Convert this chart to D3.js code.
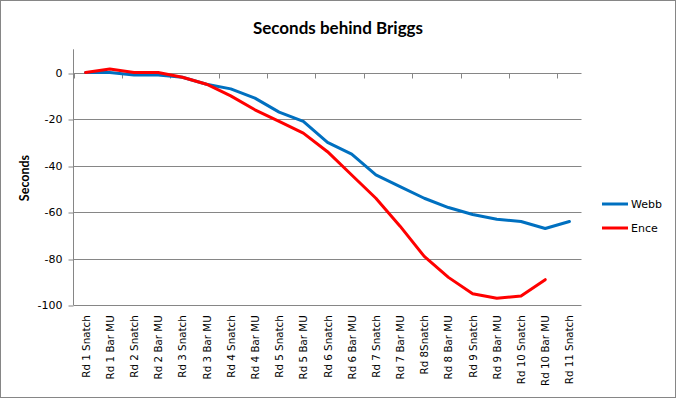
<!DOCTYPE html>
<html>
<head>
<meta charset="utf-8">
<script src="https://cdn.jsdelivr.net/npm/d3@7/dist/d3.min.js"></script>
<style>
  html, body { margin: 0; padding: 0; background: #fff; }
  svg { display: block; }
</style>
</head>
<body>
<svg id="chart" width="677" height="399"></svg>
<script>
const categories = [
  "Rd 1 Snatch", "Rd 1 Bar MU", "Rd 2 Snatch", "Rd 2 Bar MU", "Rd 3 Snatch", "Rd 3 Bar MU",
  "Rd 4 Snatch", "Rd 4 Bar MU", "Rd 5 Snatch", "Rd 5 Bar MU", "Rd 6 Snatch", "Rd 6 Bar MU",
  "Rd 7 Snatch", "Rd 7 Bar MU", "Rd 8Snatch", "Rd 8 Bar MU", "Rd 9 Snatch", "Rd 9 Bar MU",
  "Rd 10 Snatch", "Rd 10 Bar MU", "Rd 11 Snatch"
];
const webb = [0, 0, -1, -1, -2, -5, -7, -11, -17, -21, -30, -35, -44, -49, -54, -58, -61, -63, -64, -67, -64];
const ence = [0, 1.5, 0, 0, -2, -5, -10, -16, -21, -26, -34, -44, -54, -66, -79, -88, -95, -97, -96, -89, null];
const yTicks = [0, -20, -40, -60, -80, -100];
const seriesNames = ["Webb", "Ence"];
const seriesColors = ["#0070C0", "#FF0000"];

(function () {
const svg = d3.select("#chart");
const pLeft = 73.5, pRight = 581.5, pTop = 49.3, pBottom = 305.3;
const gridColor = "#868686";
const tickFont = "'DejaVu Sans', Verdana, sans-serif";

// chart border
svg.append("rect").attr("x", 0.5).attr("y", 0.5).attr("width", 675).attr("height", 397)
  .attr("fill", "#fff").attr("stroke", gridColor).attr("stroke-width", 1);

const x = d3.scaleBand().domain(categories).range([pLeft, pRight]).paddingInner(0).paddingOuter(0);
const y = d3.scaleLinear().domain([-100, 10]).range([pBottom, pTop]);
const cx = c => x(c) + x.bandwidth() / 2;

// title
svg.append("text").attr("x", 338).attr("y", 34)
  .attr("text-anchor", "middle")
  .style("font-family", "Lato, 'Open Sans', sans-serif").style("font-weight", "bold").style("font-size", "17px")
  .text("Seconds behind Briggs");

// gridlines
svg.append("g").selectAll("line").data(yTicks).join("line")
  .attr("x1", pLeft).attr("x2", pRight)
  .attr("y1", d => Math.round(y(d)) + 0.5).attr("y2", d => Math.round(y(d)) + 0.5)
  .attr("stroke", gridColor).attr("stroke-width", 1);

// y axis
const yAxis = d3.axisLeft(y).tickValues(yTicks).tickFormat(d => String(d))
  .tickSize(5).tickSizeOuter(0).tickPadding(6);
const gy = svg.append("g").attr("transform", `translate(${pLeft},0)`).call(yAxis);
gy.attr("font-family", null).attr("font-size", null);
gy.select(".domain").remove();
gy.selectAll(".tick line").attr("stroke", gridColor)
  .attr("transform", d => `translate(0,${Math.round(y(d)) + 0.5 - y(d)})`);
gy.selectAll(".tick text")
  .style("font-family", tickFont).style("font-size", "11px").attr("fill", "#000");
svg.append("line").attr("x1", pLeft).attr("x2", pLeft).attr("y1", pTop).attr("y2", pBottom)
  .attr("stroke", gridColor);

// x axis line at 0 with tick marks every 2 categories
const y0 = Math.round(y(0)) + 0.5;
const boundaries = d3.range(0, categories.length + 1, 2).map(k => pLeft + k * x.bandwidth());
svg.append("g").selectAll("line").data(boundaries).join("line")
  .attr("x1", d => Math.round(d) + 0.5).attr("x2", d => Math.round(d) + 0.5)
  .attr("y1", y0).attr("y2", y0 + 5)
  .attr("stroke", gridColor);

// category labels (low position)
svg.append("g").selectAll("text").data(categories).join("text")
  .attr("transform", d => `translate(${cx(d) + 4},${pBottom + 10}) rotate(-90)`)
  .attr("text-anchor", "end")
  .style("font-family", tickFont).style("font-size", "10.3px")
  .text(d => d);

// y axis title
svg.append("text").attr("transform", `translate(29,178) rotate(-90)`)
  .attr("text-anchor", "middle")
  .style("font-family", "Lato, 'Open Sans', sans-serif").style("font-weight", "bold").style("font-size", "12.5px")
  .text("Seconds");

// lines
const line = d3.line()
  .defined(d => d.v !== null)
  .x(d => cx(d.c)).y(d => y(d.v));
[webb, ence].forEach((vals, si) => {
  svg.append("path")
    .datum(categories.map((c, i) => ({ c, v: vals[i] })))
    .attr("fill", "none").attr("stroke", seriesColors[si]).attr("stroke-width", 3)
    .attr("stroke-linejoin", "round").attr("stroke-linecap", "round")
    .attr("d", line);
});

// legend
const lg = svg.append("g");
seriesNames.forEach((n, i) => {
  const ly = 204 + i * 24;
  lg.append("line").attr("x1", 602).attr("x2", 628).attr("y1", ly).attr("y2", ly)
    .attr("stroke", seriesColors[i]).attr("stroke-width", 3);
  lg.append("text").attr("x", 631).attr("y", ly + 4)
    .style("font-family", tickFont).style("font-size", "11px")
    .text(n);
});
})();
</script>
</body>
</html>
